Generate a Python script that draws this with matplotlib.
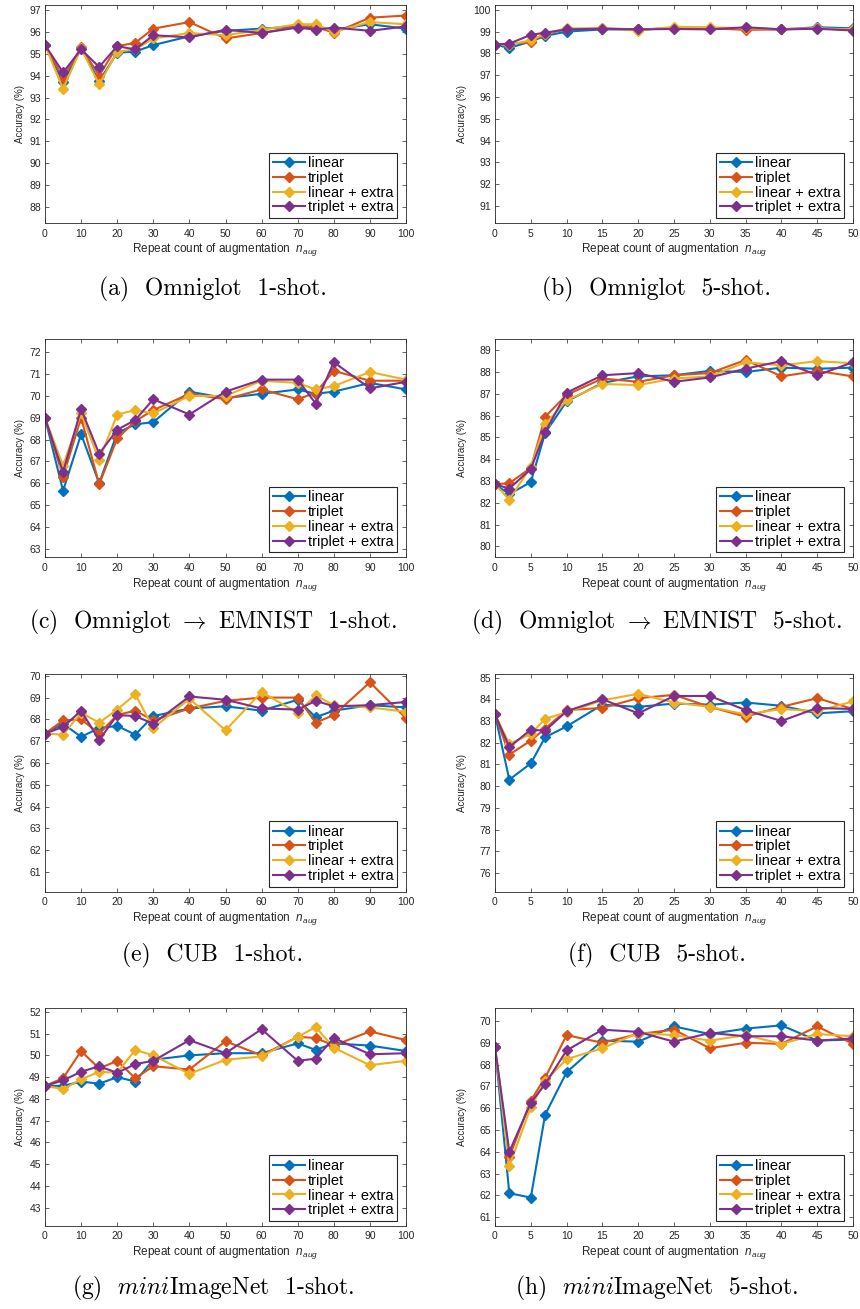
import matplotlib
matplotlib.use('Agg')
import matplotlib.pyplot as plt

plt.rcParams['font.family'] = ['Liberation Sans', 'DejaVu Sans']
plt.rcParams['mathtext.fontset'] = 'custom'
plt.rcParams['mathtext.it'] = 'Liberation Sans:italic'
plt.rcParams['mathtext.rm'] = 'Liberation Sans'

# repeat counts
x_1shot = [0, 5, 10, 15, 20, 25, 30, 40, 50, 60, 70, 75, 80, 90, 100]
x_5shot = [0, 2, 5, 7, 10, 15, 20, 25, 30, 35, 40, 45, 50]

series_names = ['linear', 'triplet', 'linear + extra', 'triplet + extra']
colors = ['#0072BD', '#D95319', '#EDB120', '#7E2F8E']

# (a) Omniglot 1-shot
a_linear = [95.4, 93.7, 95.25, 93.75, 95.05, 95.1, 95.4, 95.8, 96.05, 96.15, 96.25, 96.15, 96.1, 96.35, 96.15]
a_triplet = [95.4, 93.9, 95.3, 94.0, 95.35, 95.5, 96.15, 96.45, 95.7, 95.95, 96.25, 96.25, 95.95, 96.65, 96.75]
a_linear_extra = [95.4, 93.4, 95.25, 93.6, 95.1, 95.2, 95.7, 95.95, 95.85, 96.1, 96.35, 96.35, 96.0, 96.45, 96.35]
a_triplet_extra = [95.4, 94.15, 95.2, 94.4, 95.35, 95.2, 95.85, 95.75, 96.1, 95.95, 96.2, 96.1, 96.2, 96.05, 96.25]

# (b) Omniglot 5-shot
b_linear = [98.4, 98.25, 98.55, 98.8, 99.0, 99.1, 99.1, 99.15, 99.15, 99.15, 99.1, 99.2, 99.15]
b_triplet = [98.4, 98.45, 98.5, 98.9, 99.1, 99.15, 99.1, 99.15, 99.15, 99.08, 99.1, 99.15, 99.08]
b_linear_extra = [98.4, 98.4, 98.6, 98.9, 99.15, 99.15, 99.05, 99.22, 99.2, 99.15, 99.12, 99.15, 99.1]
b_triplet_extra = [98.4, 98.45, 98.85, 98.95, 99.1, 99.13, 99.1, 99.12, 99.1, 99.2, 99.1, 99.13, 99.05]

# (c) Omniglot -> EMNIST 1-shot
c_linear = [69.0, 65.65, 68.25, 66.0, 68.3, 68.7, 68.8, 70.2, 69.9, 70.1, 70.3, 70.1, 70.2, 70.6, 70.3]
c_triplet = [69.0, 66.3, 69.0, 65.95, 68.05, 68.85, 69.35, 70.1, 69.85, 70.3, 69.85, 70.15, 71.15, 70.7, 70.7]
c_linear_extra = [69.0, 66.8, 69.2, 67.05, 69.15, 69.35, 69.2, 70.0, 70.0, 70.7, 70.6, 70.3, 70.45, 71.1, 70.75]
c_triplet_extra = [69.0, 66.5, 69.4, 67.35, 68.45, 68.9, 69.85, 69.15, 70.2, 70.75, 70.75, 69.65, 71.55, 70.35, 70.65]

# (d) Omniglot -> EMNIST 5-shot
d_linear = [82.85, 82.4, 82.95, 85.2, 86.65, 87.5, 87.8, 87.85, 88.05, 88.0, 88.2, 88.15, 88.2]
d_triplet = [82.85, 82.9, 83.6, 85.95, 86.95, 87.7, 87.55, 87.85, 87.95, 88.55, 87.8, 88.05, 87.8]
d_linear_extra = [82.85, 82.15, 83.65, 85.6, 86.7, 87.45, 87.4, 87.7, 87.8, 88.45, 88.3, 88.5, 88.4]
d_triplet_extra = [82.85, 82.65, 83.55, 85.25, 87.05, 87.85, 87.95, 87.55, 87.75, 88.15, 88.5, 87.85, 88.45]

# (e) CUB 1-shot
e_linear = [67.35, 67.8, 67.2, 67.6, 67.7, 67.3, 68.15, 68.5, 68.6, 68.4, 68.9, 68.1, 68.4, 68.65, 68.55]
e_triplet = [67.35, 67.95, 68.0, 67.35, 68.2, 68.4, 67.95, 68.5, 68.85, 69.0, 69.0, 67.85, 68.2, 69.7, 68.05]
e_linear_extra = [67.35, 67.3, 68.3, 67.85, 68.45, 69.15, 67.6, 68.95, 67.5, 69.25, 68.3, 69.1, 68.65, 68.55, 68.35]
e_triplet_extra = [67.35, 67.65, 68.4, 67.05, 68.2, 68.15, 67.8, 69.05, 68.9, 68.5, 68.45, 68.85, 68.6, 68.65, 68.8]

# (f) CUB 5-shot
f_linear = [83.3, 80.3, 81.05, 82.25, 82.75, 83.75, 83.65, 83.8, 83.75, 83.85, 83.7, 83.35, 83.45]
f_triplet = [83.3, 81.45, 82.1, 82.65, 83.5, 83.6, 84.05, 84.2, 83.65, 83.2, 83.65, 84.05, 83.55]
f_linear_extra = [83.3, 81.95, 82.4, 83.1, 83.4, 83.95, 84.25, 83.85, 83.65, 83.3, 83.55, 83.45, 83.9]
f_triplet_extra = [83.3, 81.8, 82.6, 82.55, 83.45, 84.0, 83.35, 84.15, 84.15, 83.5, 83.0, 83.6, 83.55]

# (g) miniImageNet 1-shot
g_linear = [48.6, 48.6, 48.8, 48.7, 49.0, 48.8, 49.8, 50.0, 50.1, 50.1, 50.55, 50.25, 50.55, 50.45, 50.2]
g_triplet = [48.6, 48.95, 50.2, 49.4, 49.75, 48.95, 49.5, 49.35, 50.65, 50.0, 50.85, 50.8, 50.45, 51.1, 50.7]
g_linear_extra = [48.6, 48.45, 48.9, 49.25, 49.2, 50.25, 50.0, 49.15, 49.8, 49.95, 50.85, 51.3, 50.35, 49.55, 49.75]
g_triplet_extra = [48.6, 48.85, 49.25, 49.5, 49.2, 49.6, 49.75, 50.7, 50.1, 51.2, 49.75, 49.85, 50.8, 50.05, 50.1]

# (h) miniImageNet 5-shot
h_linear = [68.8, 62.1, 61.9, 65.7, 67.65, 69.1, 69.05, 69.75, 69.4, 69.65, 69.8, 69.1, 69.15]
h_triplet = [68.8, 63.75, 66.35, 67.4, 69.35, 69.0, 69.4, 69.6, 68.75, 69.0, 68.95, 69.75, 68.95]
h_linear_extra = [68.8, 63.35, 66.05, 67.25, 68.25, 68.75, 69.45, 69.35, 69.1, 69.35, 68.95, 69.4, 69.3]
h_triplet_extra = [68.8, 64.0, 66.25, 67.1, 68.65, 69.6, 69.5, 69.05, 69.45, 69.3, 69.3, 69.1, 69.2]

captions = [
    '(a)  Omniglot  1-shot.',
    '(b)  Omniglot  5-shot.',
    r'(c)  Omniglot $\rightarrow$ EMNIST  1-shot.',
    r'(d)  Omniglot $\rightarrow$ EMNIST  5-shot.',
    '(e)  CUB  1-shot.',
    '(f)  CUB  5-shot.',
    r'(g)  $mini$ImageNet  1-shot.',
    r'(h)  $mini$ImageNet  5-shot.',
]

ylims = [(87.27, 97.23), (90.22, 100.22), (62.6, 72.6), (79.5, 89.5),
         (60.1, 70.1), (75.15, 85.18), (42.17, 52.18), (60.6, 70.6)]

panels = [
    (x_1shot, [a_linear, a_triplet, a_linear_extra, a_triplet_extra]),
    (x_5shot, [b_linear, b_triplet, b_linear_extra, b_triplet_extra]),
    (x_1shot, [c_linear, c_triplet, c_linear_extra, c_triplet_extra]),
    (x_5shot, [d_linear, d_triplet, d_linear_extra, d_triplet_extra]),
    (x_1shot, [e_linear, e_triplet, e_linear_extra, e_triplet_extra]),
    (x_5shot, [f_linear, f_triplet, f_linear_extra, f_triplet_extra]),
    (x_1shot, [g_linear, g_triplet, g_linear_extra, g_triplet_extra]),
    (x_5shot, [h_linear, h_triplet, h_linear_extra, h_triplet_extra]),
]

W, H = 860, 1309
fig = plt.figure(figsize=(W / 100, H / 100), dpi=100)
axis_color = '#262626'

for i, (xs, ys_list) in enumerate(panels):
    row, col = divmod(i, 2)
    top = 5 + 334.3 * row
    if col == 0:
        left, width, ylab_x = 45, 361, 25
    else:
        left, width, ylab_x = 495, 358, 467
    ax = fig.add_axes([left / W, 1 - (top + 218) / H, width / W, 218 / H])

    for ys, name, c in zip(ys_list, series_names, colors):
        ax.plot(xs, ys, color=c, lw=1.5, marker='D', markersize=5.5,
                markerfacecolor=c, markeredgecolor=c, label=name)

    ymin, ymax = ylims[i]
    ax.set_ylim(ymin, ymax)
    xmax = xs[-1]
    ax.set_xlim(0, xmax)
    step = 10 if xmax == 100 else 5
    ax.set_xticks(range(0, xmax + 1, step))
    ax.set_yticks(range(int(ymin) + 1, int(ymax) + 1))

    ax.tick_params(direction='in', top=True, right=True, length=3, width=0.5,
                   colors=axis_color, labelsize=7.5)
    ax.tick_params(axis='x', pad=4)
    ax.tick_params(axis='y', pad=3)
    for s in ax.spines.values():
        s.set_color(axis_color)
        s.set_linewidth(0.6)

    ax.set_ylabel('Accuracy (%)', fontsize=7, color=axis_color)
    ax.yaxis.set_label_coords((ylab_x - left) / width, 0.5)
    ax.set_xlabel(r'Repeat count of augmentation  $n_{aug}$', fontsize=8.5,
                  color=axis_color, labelpad=2)

    leg = ax.legend(loc='lower right', bbox_to_anchor=(1 - 9 / width, 5 / 218),
                    borderaxespad=0, fontsize=10.5, labelspacing=0.05,
                    handlelength=2.2, handletextpad=0.2, borderpad=0.25,
                    fancybox=False, framealpha=1)
    leg.get_frame().set_edgecolor(axis_color)
    leg.get_frame().set_linewidth(0.8)

    cx = 213 if col == 0 else 657
    cy = 289 + 333.3 * row
    fig.text(cx / W, 1 - cy / H, captions[i], family='cmr10', math_fontfamily='cm',
             fontsize=17, ha='center', va='center')

fig.savefig('out.png', dpi=100)
